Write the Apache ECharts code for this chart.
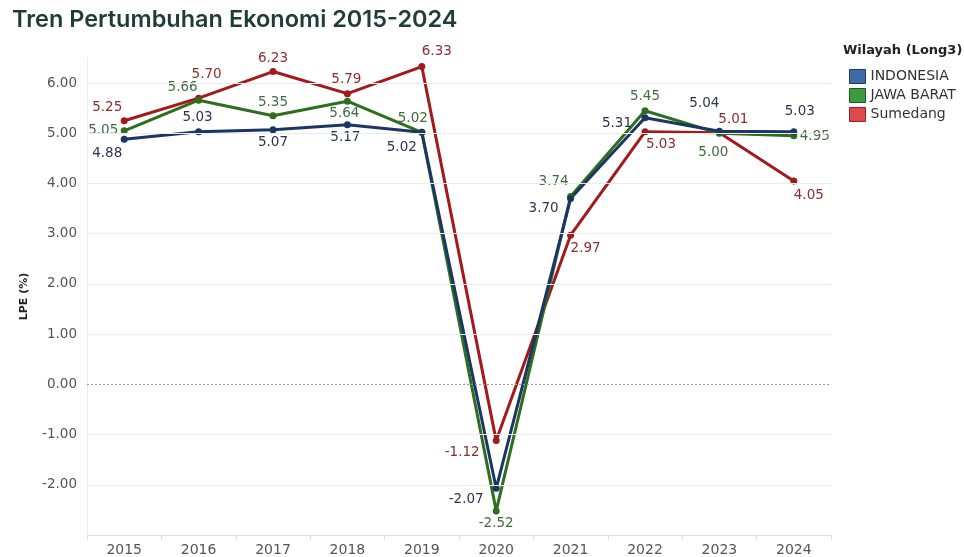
<!DOCTYPE html>
<html>
<head>
<meta charset="utf-8">
<script src="https://cdn.jsdelivr.net/npm/echarts@6/dist/echarts.min.js"></script>
<style>html,body{margin:0;padding:0;background:#fff}#c{width:964px;height:557px}</style>
</head>
<body>
<div id="c"></div>
<script>
const years = ['2015','2016','2017','2018','2019','2020','2021','2022','2023','2024'];
const indonesia = [4.88, 5.03, 5.07, 5.17, 5.02, -2.07, 3.70, 5.31, 5.04, 5.03];
const jawaBarat = [5.05, 5.66, 5.35, 5.64, 5.02, -2.52, 3.74, 5.45, 5.00, 4.95];
const sumedang  = [5.25, 5.70, 6.23, 5.79, 6.33, -1.12, 2.97, 5.03, 5.01, 4.05];
const seriesNames = ['INDONESIA', 'JAWA BARAT', 'Sumedang'];
const gridValues = [-2, -1, 1, 2, 3, 4, 5, 6];

// label placement (style only): offset of label centre from the point, px
const offsIndo = [[-17,14],[-1,-14],[0,13],[-2,13],[-20,15],[-30,11],[-27,10],[-28,6],[-15,-28],[6,-20]];
const offsJabar = [[-21,0],[-16,-13],[0,-13],[-3,12],[-9,-14],[0,13],[-17,-15],[0,-14],[-6,19],[21,1]];
const offsSum = [[-17,-13],[8,-24],[0,-13],[-1,-14],[15,-15],[-34,12],[15,13],[16,13],[14,-13],[15,14]];

const FONT = 'DejaVu Sans';

function mk(name, vals, offs, lineColor, labelColor) {
  return {
    name: name,
    type: 'line',
    data: vals.map((v, i) => ({
      value: v,
      label: { offset: offs[i] }
    })),
    symbol: 'circle',
    symbolSize: 7,
    lineStyle: { width: 3, color: lineColor },
    itemStyle: { color: lineColor },
    label: {
      show: true,
      position: 'inside',
      align: 'center',
      verticalAlign: 'middle',
      formatter: p => p.value.toFixed(2),
      color: labelColor,
      fontFamily: FONT,
      fontSize: 13.5
    },
    emphasis: { disabled: true },
    z: 3
  };
}

const chart = echarts.init(document.getElementById('c'), null, { renderer: 'canvas' });

const gridSeries = {
  name: '_grid',
  type: 'line',
  data: [],
  z: 1,
  silent: true,
  markLine: {
    silent: true,
    symbol: 'none',
    animation: false,
    label: { show: false },
    emphasis: { disabled: true },
    data: gridValues.map(v => ({ yAxis: v, lineStyle: { color: '#ebebeb', type: 'solid', width: 1 } }))
      .concat([{ yAxis: 0, lineStyle: { color: '#9a9a9a', type: [2, 2], width: 1 } }])
  }
};

const option = {
  animation: false,
  backgroundColor: '#fff',
  title: {
    text: 'Tren Pertumbuhan Ekonomi 2015-2024',
    left: 7, top: 3,
    textStyle: { fontFamily: 'Inter', fontSize: 23.5, fontWeight: 600, color: '#1d3d36' }
  },
  legend: {
    orient: 'vertical',
    left: 844, top: 64,
    itemWidth: 16, itemHeight: 14, itemGap: 4,
    icon: 'rect',
    textStyle: { fontFamily: FONT, fontSize: 14, color: '#333' },
    data: [
      { name: 'INDONESIA', itemStyle: { color: '#3f6aa6', borderColor: '#1f3a68', borderWidth: 1 } },
      { name: 'JAWA BARAT', itemStyle: { color: '#3f9a3f', borderColor: '#1f5a1f', borderWidth: 1 } },
      { name: 'Sumedang', itemStyle: { color: '#dc4a4c', borderColor: '#9a1f22', borderWidth: 1 } }
    ]
  },
  graphic: [{
    type: 'text', left: 843, top: 44,
    style: { text: 'Wilayah (Long3)', font: 'bold 13px ' + FONT, fill: '#222' }
  }],
  grid: { left: 87, right: 133, top: 58, bottom: 16 },
  xAxis: {
    type: 'category',
    data: years,
    boundaryGap: true,
    axisLine: { onZero: false, lineStyle: { color: '#ddd' } },
    axisTick: { show: true, length: 5, lineStyle: { color: '#ddd' } },
    axisLabel: { fontFamily: FONT, fontSize: 14, color: '#555', margin: 8 }
  },
  yAxis: {
    type: 'value',
    min: -3, max: 6.5, interval: 1,
    name: 'LPE (%)',
    nameLocation: 'middle',
    nameGap: 57,
    nameTextStyle: { fontFamily: FONT, fontSize: 11, fontWeight: 'bold', color: '#222' },
    axisLine: { show: true, lineStyle: { color: '#eee' } },
    axisTick: { show: false },
    axisLabel: {
      fontFamily: FONT, fontSize: 13.5, color: '#555', margin: 10,
      showMinLabel: false, showMaxLabel: false,
      formatter: v => v.toFixed(2)
    },
    splitLine: { show: false }
  },
  series: [
    gridSeries,
    mk(seriesNames[2], sumedang, offsSum, '#a3191c', '#8c2d2d'),
    mk(seriesNames[1], jawaBarat, offsJabar, '#2d6e1f', '#3f6b3f'),
    mk(seriesNames[0], indonesia, offsIndo, '#1b3564', '#2c3350')
  ]
};
chart.setOption(option);
</script>
</body>
</html>
